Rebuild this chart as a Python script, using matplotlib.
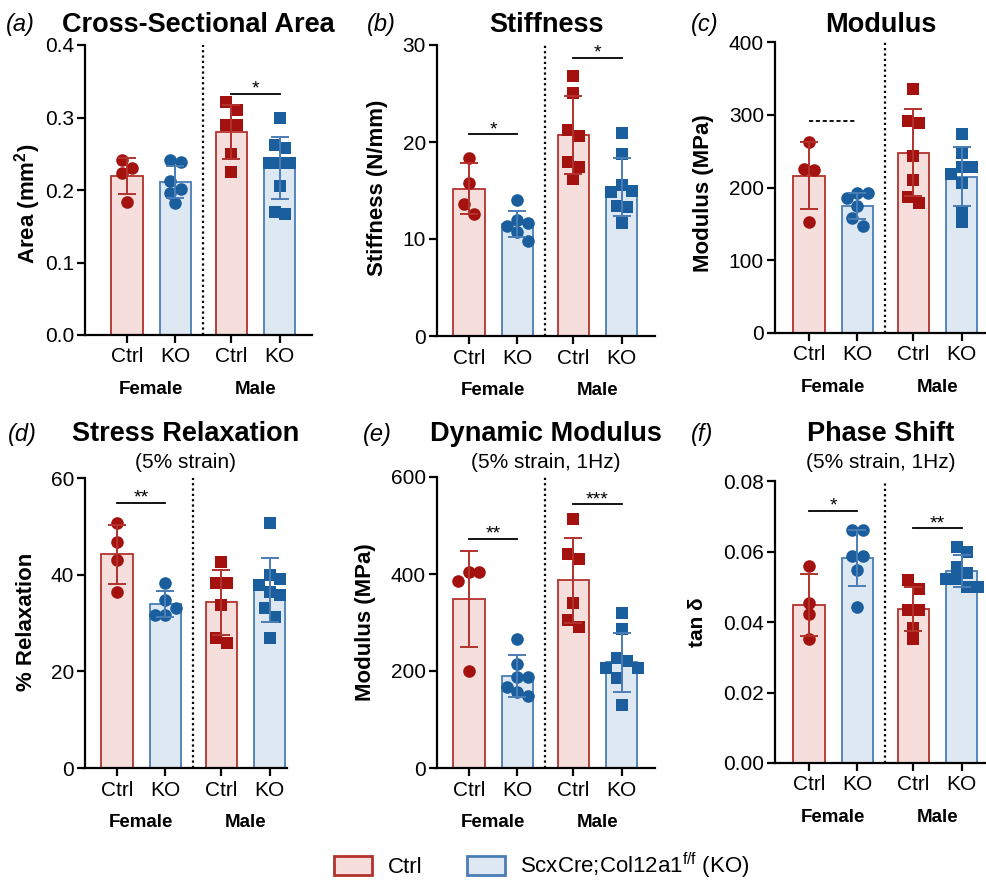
import numpy as np
import matplotlib
matplotlib.use("Agg")
import matplotlib.pyplot as plt
from matplotlib.patches import Patch

plt.rcParams['font.family'] = ['Liberation Sans', 'DejaVu Sans']
plt.rcParams['mathtext.fontset'] = 'custom'
plt.rcParams['mathtext.rm'] = 'Liberation Sans'
plt.rcParams['mathtext.bf'] = 'Liberation Sans:bold'

groups = ["Ctrl", "KO", "Ctrl", "KO"]
sexes = ["Female", "Male"]

# (a) cross-sectional area, mm^2  (order: F ctrl, F KO, M ctrl, M KO)
area_pts = [[0.241, 0.230, 0.223, 0.184],
            [0.242, 0.239, 0.213, 0.202, 0.196, 0.182],
            [0.321, 0.310, 0.289, 0.289, 0.249, 0.225],
            [0.299, 0.262, 0.258, 0.237, 0.237, 0.237, 0.206, 0.170, 0.167]]
area_mean = [0.219, 0.211, 0.280, 0.230]
area_sd = [0.025, 0.022, 0.037, 0.043]

# (b) stiffness, N/mm
stiff_pts = [[18.4, 15.8, 13.6, 12.6],
             [14.0, 12.0, 11.6, 11.3, 10.7, 9.8],
             [26.8, 25.1, 21.2, 20.6, 17.9, 17.4, 16.2],
             [20.9, 18.8, 15.6, 14.9, 14.8, 13.4, 13.3, 11.7]]
stiff_mean = [15.2, 11.55, 20.7, 15.4]
stiff_sd = [2.6, 1.35, 4.0, 3.0]

# (c) modulus, MPa
mod_pts = [[263, 225, 224, 153],
           [192, 192, 185, 174, 158, 147],
           [335, 292, 289, 243, 210, 187, 179],
           [273, 248, 228, 228, 219, 206, 167, 152]]
mod_mean = [216, 175, 248, 215]
mod_sd = [46, 18, 60, 40]

# (d) stress relaxation, %
relax_pts = [[50.6, 46.8, 43.0, 36.4],
             [38.3, 34.8, 33.2, 31.7, 31.7],
             [42.7, 38.2, 38.2, 33.7, 26.9, 25.9],
             [50.7, 39.9, 39.2, 37.9, 36.4, 35.8, 33.2, 31.3, 26.9]]
relax_mean = [44.2, 33.9, 34.3, 36.8]
relax_sd = [6.1, 2.7, 6.7, 6.6]

# (e) dynamic modulus, MPa
dyn_pts = [[405, 405, 386, 201],
           [266, 214, 187, 187, 168, 157, 149],
           [513, 442, 430, 341, 305, 291],
           [320, 286, 226, 221, 206, 206, 186, 130]]
dyn_mean = [349, 190, 387, 218]
dyn_sd = [99, 43, 88, 61]

# (f) phase shift, tan delta
tan_pts = [[0.0559, 0.0455, 0.0422, 0.0351],
           [0.0661, 0.0661, 0.0587, 0.0587, 0.0548, 0.0443],
           [0.0519, 0.0493, 0.0434, 0.0434, 0.0384, 0.0351],
           [0.0614, 0.0599, 0.0557, 0.0540, 0.0521, 0.0521, 0.0498, 0.0498]]
tan_mean = [0.0447, 0.0581, 0.0436, 0.0544]
tan_sd = [0.0088, 0.0079, 0.0062, 0.0045]

# significance bars: (pair, height, stars)
area_sig = [(1, 0.333, "*")]
stiff_sig = [(0, 20.8, "*"), (1, 28.7, "*")]
mod_sig = [(0, 291, None)]
relax_sig = [(0, 54.9, "**")]
dyn_sig = [(0, 473, "**"), (1, 544, "***")]
tan_sig = [(0, 0.0716, "*"), (1, 0.0666, "**")]

red_fill, red_edge, red_pt = "#F5DEDB", "#B3322D", "#A3120F"
blue_fill, blue_edge, blue_pt = "#DDE8F3", "#4A7DB5", "#1B5E9E"
fills = [red_fill, blue_fill, red_fill, blue_fill]
edges = [red_edge, blue_edge, red_edge, blue_edge]
ptcol = [red_pt, blue_pt, red_pt, blue_pt]
markers = ["o", "o", "s", "s"]

xpos = np.array([0, 1, 2.15, 3.15])
W, H = 987, 884
UNIT = 48.5  # px per x unit

fig = plt.figure(figsize=(W / 100, H / 100), dpi=100)


def swarm(vals, px_per_y, diam=10.0, step=10.5):
    # greedy dot-plot layout, then centre each cluster of overlapping rows
    ys = np.asarray(vals) * px_per_y
    cands = [0]
    for k in range(1, 5):
        cands += [k * step, -k * step]
    offs = []
    for i, yv in enumerate(ys):
        for c in cands:
            if all(np.hypot(c - offs[j], yv - ys[j]) >= diam - 0.01 for j in range(i)):
                break
        offs.append(c)
    offs = np.array(offs, dtype=float)
    order = np.argsort(-ys)
    cluster = [order[0]]
    clusters = []
    for a, b in zip(order[:-1], order[1:]):
        if ys[a] - ys[b] < diam:
            cluster.append(b)
        else:
            clusters.append(cluster)
            cluster = [b]
    clusters.append(cluster)
    for cl in clusters:
        o = offs[cl]
        offs[cl] = o - (o.max() + o.min()) / 2
    return offs / UNIT


panels = [
    dict(lab="(a)", title="Cross-Sectional Area", sub=None, ylab="Area (mm$^{\\mathbf{2}}$)",
         pts=area_pts, mean=area_mean, sd=area_sd, sig=area_sig,
         yt=[0, 0.1, 0.2, 0.3, 0.4], ytl=["0.0", "0.1", "0.2", "0.3", "0.4"],
         box=(85, 312, 45, 335), bar0=127, ylx=30, yly=204, labx=6, ty=25),
    dict(lab="(b)", title="Stiffness", sub=None, ylab="Stiffness (N/mm)",
         pts=stiff_pts, mean=stiff_mean, sd=stiff_sd, sig=stiff_sig,
         yt=[0, 10, 20, 30], ytl=["0", "10", "20", "30"],
         box=(437, 655, 45, 336), bar0=469, ylx=375, yly=188, labx=367, ty=25),
    dict(lab="(c)", title="Modulus", sub=None, ylab="Modulus (MPa)",
         pts=mod_pts, mean=mod_mean, sd=mod_sd, sig=mod_sig,
         yt=[0, 100, 200, 300, 400], ytl=["0", "100", "200", "300", "400"],
         box=(775, 986, 42, 333), bar0=809, ylx=701, yly=193, labx=691, ty=25),
    dict(lab="(d)", title="Stress Relaxation", sub="(5% strain)", ylab="% Relaxation",
         pts=relax_pts, mean=relax_mean, sd=relax_sd, sig=relax_sig,
         yt=[0, 20, 40, 60], ytl=["0", "20", "40", "60"],
         box=(85, 287, 478, 768), bar0=117, ylx=24, yly=622, labx=8, ty=434),
    dict(lab="(e)", title="Dynamic Modulus", sub="(5% strain, 1Hz)", ylab="Modulus (MPa)",
         pts=dyn_pts, mean=dyn_mean, sd=dyn_sd, sig=dyn_sig,
         yt=[0, 200, 400, 600], ytl=["0", "200", "400", "600"],
         box=(437, 655, 477, 768), bar0=469, ylx=363, yly=622, labx=363, ty=434),
    dict(lab="(f)", title="Phase Shift", sub="(5% strain, 1Hz)", ylab="tan δ",
         pts=tan_pts, mean=tan_mean, sd=tan_sd, sig=tan_sig,
         yt=[0, 0.02, 0.04, 0.06, 0.08], ytl=["0.00", "0.02", "0.04", "0.06", "0.08"],
         box=(775, 986, 481, 763), bar0=809, ylx=694, yly=622, labx=691, ty=434),
]

for p in panels:
    l, r, t, b = p["box"]
    ax = fig.add_axes([l / W, 1 - b / H, (r - l) / W, (b - t) / H])
    ymax = p["yt"][-1]
    ax.set_ylim(0, ymax)
    ax.set_xlim((l - p["bar0"]) / UNIT, (r - p["bar0"]) / UNIT)
    px_per_y = (b - t) / ymax

    ax.bar(xpos, p["mean"], width=0.64, color=fills, edgecolor=edges, linewidth=1.3, zorder=1)
    for i in range(4):
        vals = np.array(p["pts"][i])
        xo = swarm(vals, px_per_y)
        ax.scatter(xpos[i] + xo, vals, s=82 if markers[i] == "o" else 70, marker=markers[i],
                   color=ptcol[i], linewidths=0, zorder=2)
        ax.errorbar(xpos[i], p["mean"][i], yerr=p["sd"][i], fmt="none", ecolor=edges[i],
                    elinewidth=1.4, capsize=6.5, capthick=1.4, zorder=3)

    ax.axvline((xpos[1] + xpos[2]) / 2, color="black", ls=(0, (1, 1.4)), lw=1.6, zorder=0)

    for pair, h, stars in p["sig"]:
        x0, x1 = xpos[2 * pair], xpos[2 * pair + 1]
        if stars is None:
            ax.plot([x0, x1], [h, h], color="black", lw=1.3, ls=(0, (2.3, 1.5)))
        else:
            ax.plot([x0, x1], [h, h], color="black", lw=1.3)
            ax.text((x0 + x1) / 2, h, stars, ha="center", va="baseline", fontsize=14)

    for s in ["top", "right"]:
        ax.spines[s].set_visible(False)
    for s in ["left", "bottom"]:
        ax.spines[s].set_linewidth(1.6)
    ax.set_yticks(p["yt"])
    ax.set_yticklabels(p["ytl"])
    ax.set_xticks(xpos)
    ax.set_xticklabels(groups)
    ax.tick_params(axis="both", length=6, width=1.6, labelsize=15)
    ax.tick_params(axis="x", pad=3)
    ax.tick_params(axis="y", pad=2)

    for j, sx in enumerate(sexes):
        ax.annotate(sx, xy=((xpos[2 * j] + xpos[2 * j + 1]) / 2, 0), xycoords=("data", "axes fraction"),
                    xytext=(0, -39), textcoords="offset points", ha="center", va="center",
                    fontsize=13.5, fontweight="bold")

    ax.set_ylabel(p["ylab"], fontsize=15 if p["ylab"].startswith("tan") else 16,
                  fontweight="bold")
    ax.yaxis.set_label_coords((p["ylx"] + 13 - l) / (r - l), (b - p["yly"]) / (b - t))

    cx = (l + r) / 2
    fig.text(cx / W, 1 - p["ty"] / H, p["title"], ha="center", va="center",
             fontsize=19.5, fontweight="bold")
    if p["sub"]:
        fig.text(cx / W, 1 - (p["ty"] + 28) / H, p["sub"], ha="center", va="center", fontsize=15)
    fig.text(p["labx"] / W, 1 - p["ty"] / H, p["lab"], ha="left", va="center",
             fontsize=17, style="italic")

handles = [Patch(facecolor=red_fill, edgecolor=red_edge, linewidth=2),
           Patch(facecolor=blue_fill, edgecolor=blue_edge, linewidth=2)]
fig.legend(handles, ["Ctrl", r"ScxCre;Col12a1$^{\mathrm{f/f}}$ (KO)"], loc="center",
           bbox_to_anchor=(542 / W, 1 - 866 / H), ncol=2, frameon=False, fontsize=16,
           handlelength=1.7, handleheight=0.9, handletextpad=0.7, columnspacing=2.0)

fig.savefig("out.png", dpi=100)
